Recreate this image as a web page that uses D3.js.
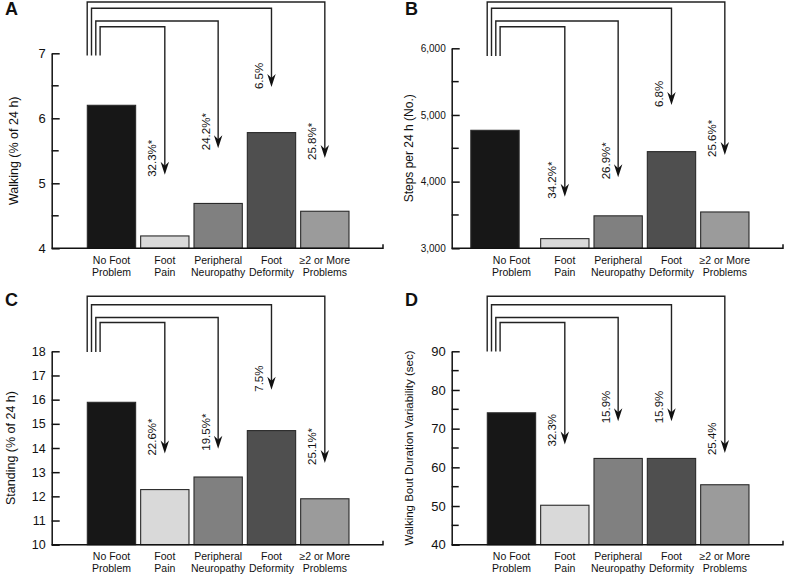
<!DOCTYPE html>
<html><head><meta charset="utf-8">
<script src="https://cdn.jsdelivr.net/npm/d3@7"></script>
<style>
body{margin:0;background:#fff}
svg{display:block}
text{font-family:"Liberation Sans",Arial,Helvetica,sans-serif;fill:#111}
</style>
</head><body>
<svg id="c" width="800" height="578"></svg>
<script>
// ---------- data ----------
const categories = [["No Foot","Problem"],["Foot","Pain"],["Peripheral","Neuropathy"],["Foot","Deformity"],["≥2 or More","Problems"]];
const barColors = ["#171717","#d9d9d9","#808080","#4f4f4f","#9b9b9b"];

const walking  = [6.20, 4.19, 4.69, 5.78, 4.57];
const steps    = [4770, 3145, 3487, 4450, 3545];
const standing = [15.89, 12.28, 12.80, 14.72, 11.90];
const boutVar  = [74.1, 50.2, 62.3, 62.3, 55.5];

const walkingPct  = ["32.3%*","24.2%*","6.5%","25.8%*"];
const stepsPct    = ["34.2%*","26.9%*","6.8%","25.6%*"];
const standingPct = ["22.6%*","19.5%*","7.5%","25.1%*"];
const boutPct     = ["32.3%","15.9%","15.9%","25.4%"];

const walkingTicks  = [4,5,6,7];
const walkingMinor  = [4.5,5.5,6.5];
const stepsTicks    = [3000,4000,5000,6000];
const stepsMinor    = [3500,4500,5500];
const standingTicks = [10,11,12,13,14,15,16,17,18];
const standingMinor = [];
const boutTicks     = [40,50,60,70,80,90];
const boutMinor     = [45,55,65,75,85];

// arrow tip levels (in axis units) for categories 1..4
const walkingTips  = [5.13, 5.54, 6.48, 5.39];
const stepsTips    = [3775, 4065, 5150, 4400];
const standingTips = [13.77, 13.97, 16.41, 13.38];
const boutTips     = [65.9, 71.9, 71.9, 63.7];

// ---------- layout ----------
const panels = [
  {letter:"A", ox:0, oy:0, values:walking, ticks:walkingTicks, minor:walkingMinor, pct:walkingPct, tips:walkingTips,
   title:"Walking (% of 24 h)", domain:[4,7], yTop:53.3, yBot:248.3, tickFont:13, titleFont:12.5, titleX:18,
   fmt:d3.format("d"), bracketTops:[2,8.3,21,26.7], bracketBot:55.5, firstShift:0, letterY:15},
  {letter:"B", ox:400, oy:0, values:steps, ticks:stepsTicks, minor:stepsMinor, pct:stepsPct, tips:stepsTips,
   title:"Steps per 24 h (No.)", domain:[3000,6000], yTop:48.3, yBot:248.3, tickFont:10, titleFont:12, titleX:13,
   fmt:d3.format(","), bracketTops:[2,8.3,21,26.7], bracketBot:56, firstShift:-16.5, letterY:15},
  {letter:"C", ox:0, oy:288, values:standing, ticks:standingTicks, minor:standingMinor, pct:standingPct, tips:standingTips,
   title:"Standing (% of 24 h)", domain:[10,18], yTop:63.3, yBot:256.7, tickFont:12.5, titleFont:12.5, titleX:15,
   fmt:d3.format("d"), bracketTops:[8.3,16.7,29.5,34.5], bracketBot:64, firstShift:0, letterY:18},
  {letter:"D", ox:400, oy:288, values:boutVar, ticks:boutTicks, minor:boutMinor, pct:boutPct, tips:boutTips,
   title:"Walking Bout Duration Variability (sec)", domain:[40,90], yTop:63.3, yBot:256.7, tickFont:13, titleFont:11.5, titleX:13,
   fmt:d3.format("d"), bracketTops:[8.3,16.7,29.5,34.5], bracketBot:63.5, firstShift:0, letterY:18}
];
const axisX = 51.7, xEnd = 383;

const svg = d3.select("#c");

panels.forEach(p => {
  const g = svg.append("g").attr("transform", `translate(${p.ox},${p.oy})`);
  const y = d3.scaleLinear().domain(p.domain).range([p.yBot, p.yTop]);
  const x = d3.scaleBand().domain(d3.range(categories.length))
    .range([axisX + 30.6, axisX + 302.3]).paddingInner(0.094).paddingOuter(0.094);
  const bw = x.bandwidth();

  // panel letter
  g.append("text").attr("x", 5).attr("y", p.letterY)
    .style("font-size","18px").style("font-weight","bold").text(p.letter);

  // bars
  g.selectAll("rect.bar").data(p.values).join("rect").attr("class","bar")
    .attr("x", (d,i) => x(i) + (i===0 ? p.firstShift : 0))
    .attr("y", d => y(d))
    .attr("width", bw)
    .attr("height", d => y(p.domain[0]) - y(d))
    .attr("fill", (d,i) => barColors[i])
    .attr("stroke", "#2a2a2a").attr("stroke-width", 1.1);

  // y axis
  const yAxis = d3.axisLeft(y).tickValues(p.ticks).tickFormat(p.fmt)
    .tickSizeInner(-8).tickSizeOuter(0).tickPadding(6);
  const ya = g.append("g").attr("transform", `translate(${axisX},0)`).call(yAxis);
  ya.selectAll("path,line").attr("stroke","#111").attr("stroke-width",1.5);
  ya.selectAll("text").style("font-size", p.tickFont+"px").attr("fill","#111")
    .style("font-family",'"Liberation Sans",Arial,sans-serif');

  // minor ticks
  g.selectAll("line.minor").data(p.minor).join("line").attr("class","minor")
    .attr("x1", axisX).attr("x2", axisX + 7)
    .attr("y1", d => y(d)).attr("y2", d => y(d))
    .attr("stroke","#111").attr("stroke-width",1.5);

  // x axis line with small end tick
  g.append("path")
    .attr("d", `M${axisX},${y(p.domain[0])}H${xEnd}V${y(p.domain[0]) - 4}`)
    .attr("fill","none").attr("stroke","#111").attr("stroke-width",1.5);

  // category labels
  const cl = g.selectAll("text.cat").data(categories).join("text").attr("class","cat")
    .attr("text-anchor","middle").style("font-size","10.5px")
    .attr("transform", (d,i) => `translate(${x(i) + bw/2},${y(p.domain[0]) + 15.5})`);
  cl.append("tspan").attr("x",0).attr("y",0).text(d => d[0]);
  cl.append("tspan").attr("x",0).attr("y",12).text(d => d[1]);

  // y title
  g.append("text")
    .attr("transform", `translate(${p.titleX},${(p.yTop + p.yBot)/2}) rotate(-90)`)
    .attr("text-anchor","middle").style("font-size", p.titleFont+"px").text(p.title);

  // comparison brackets with arrows (outer -> inner)
  for (let k = 0; k < 4; k++) {
    const ci = 4 - k;                 // target category
    const bx = axisX + 35.5 + k*4.3;  // start x on reference bar
    const top = p.bracketTops[k];
    const ax = x(ci) + bw/2;
    const tip = y(p.tips[ci-1]);
    g.append("path")
      .attr("d", `M${bx},${p.bracketBot}V${top}H${ax}V${tip - 8}`)
      .attr("fill","none").attr("stroke","#222").attr("stroke-width",1.4);
    g.append("path")
      .attr("d", `M${ax},${tip}L${ax-4.2},${tip-13}L${ax},${tip-9}L${ax+4.2},${tip-13}Z`)
      .attr("fill","#111");
    g.append("text")
      .attr("transform", `translate(${ax - 8.5},${tip + 2}) rotate(-90)`)
      .attr("text-anchor","start").style("font-size","11.5px")
      .text(p.pct[ci-1]);
  }
});
</script>
</body></html>
